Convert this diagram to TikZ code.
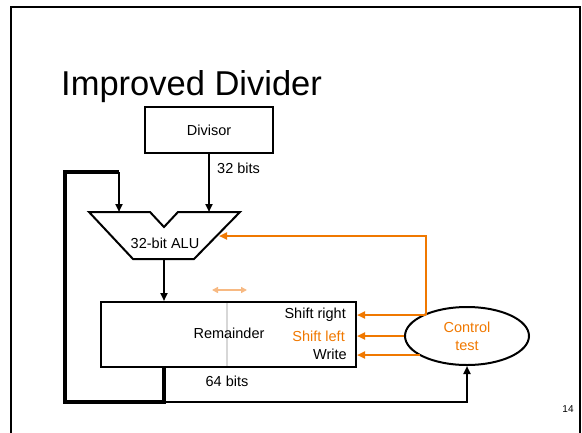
\documentclass[tikz,border=0pt]{standalone}
\usepackage{fontspec}
\setmainfont{Liberation Sans}
\usetikzlibrary{arrows.meta,shapes.geometric}
\definecolor{ctrl}{RGB}{240,120,0}
\definecolor{lightorange}{RGB}{247,185,130}
\definecolor{divgray}{RGB}{215,215,215}
\tikzset{
  lbl/.style={inner sep=0pt, font=\fontsize{14.5}{17}\selectfont},
  blockbox/.style={draw=black, line width=2pt, rectangle, inner sep=0pt},
  tip/.style={-{Triangle[length=8pt,width=7pt]}},
  datapath/.style={line width=2.8pt, tip},
  loopline/.style={line width=3.5pt},
  ctrlline/.style={draw=ctrl, line width=2pt},
  ctrlarrow/.style={ctrlline, -{Triangle[length=8pt,width=7pt]}}
}
\begin{document}
\begin{tikzpicture}[x=1pt,y=-1pt]
\useasboundingbox (0,0) rectangle (582,432);
% slide frame
\draw[line width=2.2pt] (11,7) rectangle (580,450);

% title and page number
\node[anchor=base west, inner sep=0pt, font=\fontsize{34.5}{40}\selectfont] (title) at (61,95) {Improved Divider};
\node[anchor=base, inner sep=0pt, font=\fontsize{10}{12}\selectfont] (page) at (568,412) {14};

% divisor register
\node[blockbox, minimum width=128pt, minimum height=46pt, font=\fontsize{14.5}{17}\selectfont] (div) at (209,130) {Divisor};

% ALU outline
\coordinate (a1) at (89,212);
\coordinate (a2) at (150,212);
\coordinate (a3) at (164,227);
\coordinate (a4) at (178,212);
\coordinate (a5) at (240,212);
\coordinate (a6) at (194,259);
\coordinate (a7) at (133,259);
\draw[line width=2pt, line join=miter] (a1) -- (a2) -- (a3) -- (a4) -- (a5) -- (a6) -- (a7) -- cycle;
\node[lbl] (alu) at (165,243) {32-bit ALU};
\coordinate (aluL) at (119,212);
\coordinate (aluR) at (209,212);
\coordinate (aluOut) at (164,259);
\coordinate (aluSide) at (219,236);

% remainder register
\node[blockbox, minimum width=255pt, minimum height=65pt] (rem) at (228.5,334.5) {};
\draw[divgray, line width=2pt] (227,303) -- (227,366);
\node[lbl] (remtxt) at (229,333) {Remainder};
\node[lbl, anchor=east] (sr) at (346,315) {Shift right};
\node[lbl, anchor=east, text=ctrl] (sl) at (345,336) {Shift left};
\node[lbl, anchor=east] (wr) at (347,354) {Write};
\node[lbl] (bits64) at (227,381) {64 bits};
\coordinate (shL) at (212,290);
\coordinate (shR) at (247,290);
\draw[lightorange, line width=1.8pt, {Triangle[length=6pt,width=6pt]}-{Triangle[length=6pt,width=6pt]}] (shL) -- (shR);

% control unit
\node[draw, ellipse, line width=2pt, minimum width=124pt, minimum height=58pt, inner sep=0pt,
      align=center, text=ctrl, font=\fontsize{14.5}{18}\selectfont] (ctl) at (467,336) {Control\\test};

% data paths
\draw[datapath] (div.south -| aluR) -- (aluR);
\node[lbl, anchor=west] (bits32) at (217,168) {32 bits};
\draw[datapath] (aluOut) -- (rem.north -| aluOut);

% feedback from remainder into the ALU
\coordinate (lpA) at (65,172);
\coordinate (lpB) at (65,402);
\coordinate (lpC) at (164,402);
\draw[loopline, line join=miter] (rem.south -| lpC) -- (lpC) -- (lpB) -- (lpA) -- (lpA -| aluL);
\draw[datapath] (lpA -| aluL) -- (aluL);

% test input to control
\draw[line width=2pt, tip] (lpC) -- (lpC -| ctl.south) -- (ctl.south);

% control signals
\coordinate (c1) at (426,315);
\coordinate (c3) at (420,355);
\coordinate (cUp) at (426,236);
\draw[ctrlarrow] (c1) -- (rem.east |- c1);
\draw[ctrlarrow] (ctl.west) -- (rem.east |- ctl.west);
\draw[ctrlarrow] (c3) -- (rem.east |- c3);
\draw[ctrlarrow] (c1) -- (cUp) -- (aluSide);
\end{tikzpicture}
\end{document}
